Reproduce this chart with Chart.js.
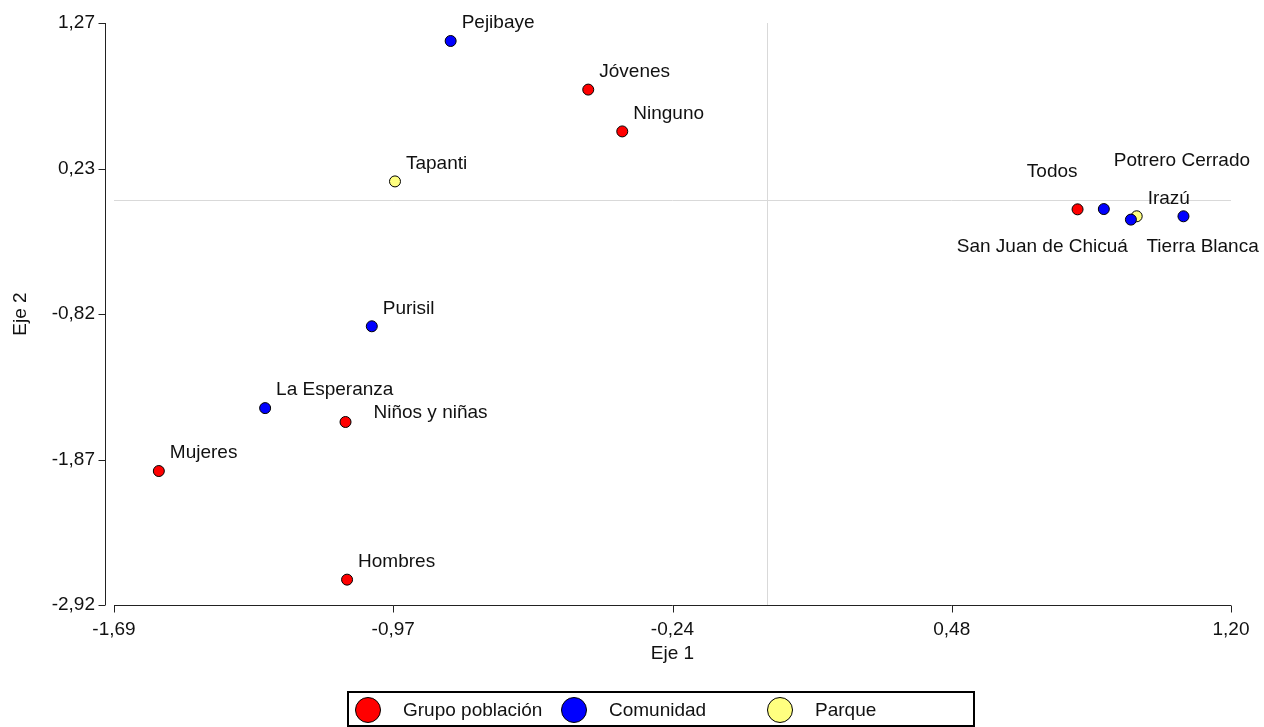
<!DOCTYPE html>
<html>
<head>
<meta charset="utf-8">
<script src="https://cdn.jsdelivr.net/npm/chart.js@4.4.1/dist/chart.umd.min.js"></script>
<style>
    html, body { margin: 0; padding: 0; background: #fff; overflow: hidden; }
    #wrap { position: relative; width: 1264px; height: 727px; }
    #legend {
        position: absolute; left: 347px; top: 691px; width: 628px; height: 36px;
        border: 2px solid #000; box-sizing: border-box; display: flex;
        padding: 4px 0 0 6px; font: 19px "Liberation Sans", Arial, sans-serif; color: #111;
    }
    .item { width: 208.5px; display: flex; align-items: center; height: 26px; }
    .dot { width: 26px; height: 26px; border-radius: 50%; border: 1.5px solid #000; box-sizing: border-box; margin-right: 22px; }
</style>
</head>
<body>
<div id="wrap">
    <canvas id="chart" width="1264" height="727"></canvas>
    <div id="legend"></div>
</div>
<script>
// series
const grupoNames = ['Jóvenes', 'Ninguno', 'Todos', 'Niños y niñas', 'Mujeres', 'Hombres'];
const grupoX = [-0.463, -0.375, 0.803, -1.091, -1.574, -1.087];
const grupoY = [0.793, 0.492, -0.069, -1.600, -1.953, -2.735];

const comunidadNames = ['Pejibaye', 'Potrero Cerrado', 'San Juan de Chicuá', 'Tierra Blanca', 'Purisil', 'La Esperanza'];
const comunidadX = [-0.819, 0.871, 0.941, 1.077, -1.023, -1.299];
const comunidadY = [1.143, -0.067, -0.143, -0.119, -0.911, -1.500];

const parqueNames = ['Tapanti', 'Irazú'];
const parqueX = [-0.963, 0.956];
const parqueY = [0.132, -0.119];

const seriesNames = ['Grupo población', 'Comunidad', 'Parque'];
const seriesColors = ['#ff0000', '#0000ff', '#ffff80'];

// axes
const xMin = -1.69, xMax = 1.20;
const yMin = -2.9175, yMax = 1.2725;
const xTickLabels = ['-1,69', '-0,97', '-0,24', '0,48', '1,20'];
const yTickLabels = ['-2,92', '-1,87', '-0,82', '0,23', '1,27'];

// label placement (pixels relative to the point), default is up-right
const labelPlace = {
    'Todos': { dx: 0, dy: -38, align: 'right' },
    'Potrero Cerrado': { dx: 10, dy: -48, align: 'left' },
    'San Juan de Chicuá': { dx: -3, dy: 27, align: 'right' },
    'Tierra Blanca': { dx: -37, dy: 30, align: 'left' },
    'Niños y niñas': { dx: 28, dy: -9, align: 'left' }
};

const FONT = '"Liberation Sans", Arial, sans-serif';

function toPoints(xs, ys, names) {
    return xs.map((x, i) => ({ x: x, y: ys[i], name: names[i] }));
}

function evenTicks(min, max, labels) {
    return labels.map((_, i) => ({ value: min + i * (max - min) / (labels.length - 1) }));
}

const pointLabels = {
    id: 'pointLabels',
    afterDatasetsDraw(chart) {
        const ctx = chart.ctx;
        ctx.save();
        ctx.font = '19px ' + FONT;
        ctx.fillStyle = '#111';
        ctx.textBaseline = 'middle';
        chart.data.datasets.forEach((ds, di) => {
            chart.getDatasetMeta(di).data.forEach((el, i) => {
                const name = ds.data[i].name;
                const p = labelPlace[name] || { dx: 11, dy: -18, align: 'left' };
                ctx.textAlign = p.align;
                ctx.fillText(name, el.x + p.dx, el.y + p.dy);
            });
        });
        ctx.restore();
    }
};

const axesAndCross = {
    id: 'axesAndCross',
    beforeDatasetsDraw(chart) {
        const ctx = chart.ctx;
        const a = chart.chartArea;
        const xs = chart.scales.x, ys = chart.scales.y;
        ctx.save();
        // zero lines
        ctx.strokeStyle = '#d9d9d9';
        ctx.lineWidth = 1;
        const x0 = Math.round(xs.getPixelForValue(0)) + 0.5;
        const y0 = Math.round(ys.getPixelForValue(0)) + 0.5;
        ctx.beginPath();
        ctx.moveTo(x0, a.top); ctx.lineTo(x0, a.bottom);
        ctx.moveTo(a.left, y0); ctx.lineTo(a.right, y0);
        ctx.stroke();
        // axis lines, y axis set off to the left
        ctx.strokeStyle = '#222';
        const yx = Math.round(a.left - 9) + 0.5;
        const xy = Math.round(a.bottom) + 0.5;
        ctx.beginPath();
        ctx.moveTo(yx, a.top); ctx.lineTo(yx, a.bottom);
        ys.ticks.forEach(t => {
            const py = Math.round(ys.getPixelForValue(t.value)) + 0.5;
            ctx.moveTo(yx, py); ctx.lineTo(yx - 7, py);
        });
        ctx.moveTo(a.left, xy); ctx.lineTo(a.right, xy);
        xs.ticks.forEach(t => {
            const px = Math.round(xs.getPixelForValue(t.value)) + 0.5;
            ctx.moveTo(px, xy); ctx.lineTo(px, xy + 7);
        });
        ctx.stroke();
        ctx.restore();
    }
};

const ctx = document.getElementById('chart').getContext('2d');
const chart = new Chart(ctx, {
    type: 'scatter',
    data: {
        datasets: [
            { label: seriesNames[0], data: toPoints(grupoX, grupoY, grupoNames) },
            { label: seriesNames[1], data: toPoints(comunidadX, comunidadY, comunidadNames) },
            { label: seriesNames[2], data: toPoints(parqueX, parqueY, parqueNames) }
        ].map((d, i) => Object.assign(d, {
            backgroundColor: seriesColors[i],
            borderColor: '#000',
            borderWidth: 1,
            pointRadius: 5.5,
            pointHoverRadius: 5.5
        }))
    },
    options: {
        responsive: false,
        animation: false,
        devicePixelRatio: 1,
        layout: { padding: { left: 0, top: 23, right: 33, bottom: 62 } },
        plugins: { legend: { display: false }, tooltip: { enabled: false } },
        scales: {
            x: {
                type: 'linear', min: xMin, max: xMax,
                grid: { display: false, tickLength: 8 },
                border: { display: false },
                afterBuildTicks: s => { s.ticks = evenTicks(xMin, xMax, xTickLabels); },
                afterFit: s => { s.height = 60; },
                ticks: {
                    padding: 5, color: '#111', maxRotation: 0, autoSkip: false,
                    font: { family: FONT, size: 19 },
                    callback: (v, i) => xTickLabels[i]
                },
                title: { display: true, text: 'Eje 1', color: '#111', padding: 0, font: { family: FONT, size: 19 } }
            },
            y: {
                type: 'linear', min: yMin, max: yMax,
                grid: { display: false, tickLength: 19 },
                border: { display: false },
                afterBuildTicks: s => { s.ticks = evenTicks(yMin, yMax, yTickLabels); },
                afterFit: s => { s.width = 114; },
                ticks: {
                    padding: 0, color: '#111', autoSkip: false,
                    font: { family: FONT, size: 19 },
                    callback: (v, i) => yTickLabels[i]
                },
                title: { display: true, text: 'Eje 2', color: '#111', padding: { top: 9, bottom: 0 }, font: { family: FONT, size: 19 } }
            }
        }
    },
    plugins: [axesAndCross, pointLabels]
});

// legend
const legend = document.getElementById('legend');
seriesNames.forEach((name, i) => {
    const item = document.createElement('div');
    item.className = 'item';
    item.innerHTML = '<span class="dot" style="background:' + seriesColors[i] + '"></span><span>' + name + '</span>';
    legend.appendChild(item);
});
</script>
</body>
</html>
